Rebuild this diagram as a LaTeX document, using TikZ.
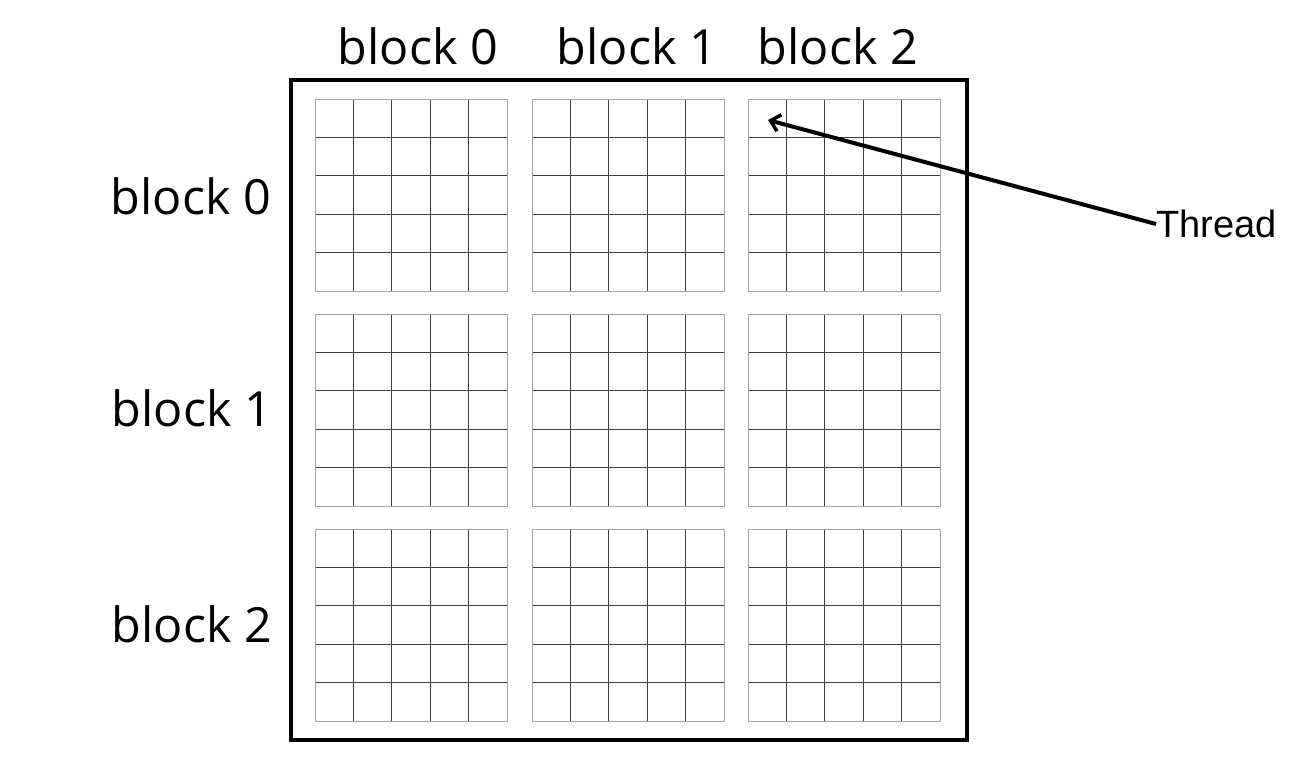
\documentclass[tikz,border=0pt]{standalone}
\usepackage{fontspec}
\setmainfont{Open Sans}
\newfontfamily\threadfont{Liberation Sans}
\usetikzlibrary{arrows.meta}
\tikzset{
  lbl/.style={font=\fontsize{48.5}{52}\selectfont, inner sep=0pt, anchor=base},
  frame/.style={line width=4pt, draw=black},
  inner/.style={line width=1pt, draw=black!75},
  outer/.style={line width=1pt, draw=black!35},
  ptr/.style={line width=4pt, -{Straight Barb[length=9pt,width=17pt,line width=3.5pt]}},
}
\newcommand{\cellgrid}[2]{%
  \foreach \k in {1,...,4}{
    \draw[inner] ({#1+\k*38.4},#2) -- ({#1+\k*38.4},{#2+192});
    \draw[inner] (#1,{#2+\k*38.4}) -- ({#1+192},{#2+\k*38.4});
  }
  \draw[outer] (#1,#2) rectangle ({#1+192},{#2+192});
}
\begin{document}
\begin{tikzpicture}[x=1pt,y=-1pt]
\useasboundingbox (0,0) rectangle (1298,764);
\draw[frame] (291,80) rectangle (967,740);
\foreach \xx in {315,532,748}{
  \foreach \yy in {99,314,529}{
    \cellgrid{\xx}{\yy}
  }
}
\node[lbl] (c0) at (418,64) {block 0};
\node[lbl] (c1) at (637,64) {block 1};
\node[lbl] (c2) at (838,64) {block 2};
\node[lbl] (r0) at (191,214) {block 0};
\node[lbl] (r1) at (192,426) {block 1};
\node[lbl] (r2) at (192,642) {block 2};
\node[font=\threadfont\fontsize{38}{42}\selectfont, inner sep=0pt, anchor=west] (th) at (1156,224) {Thread};
\coordinate (tip) at (768,120);
\draw[ptr] (th.west) -- (tip);
\end{tikzpicture}
\end{document}
